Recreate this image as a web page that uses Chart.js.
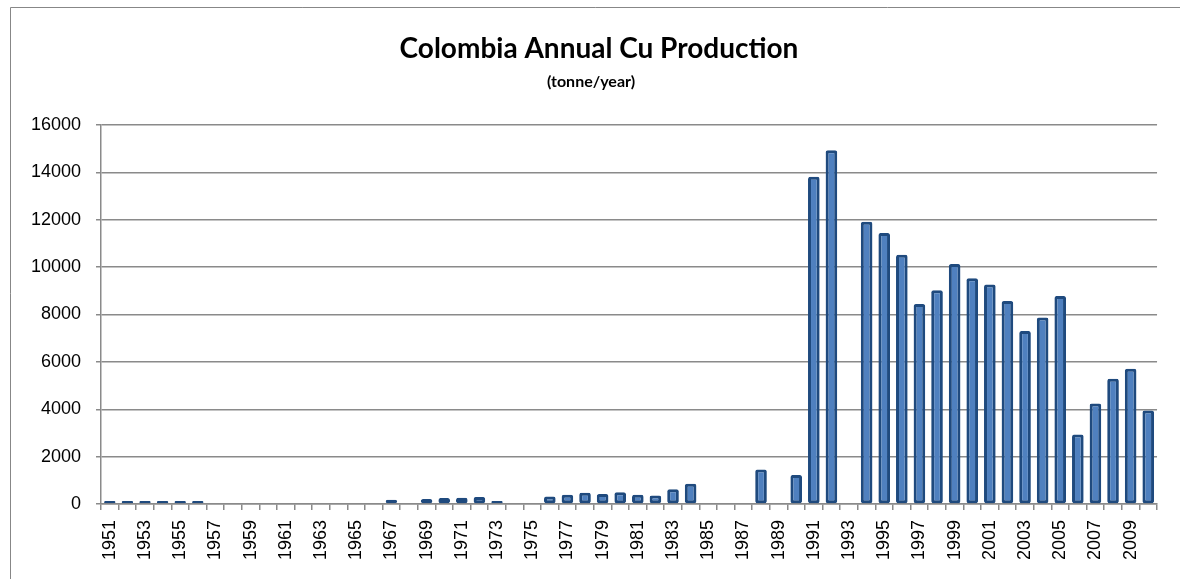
<!DOCTYPE html>
<html>
<head>
<meta charset="utf-8">
<script src="https://cdn.jsdelivr.net/npm/chart.js@4.4.1/dist/chart.umd.min.js"></script>
<style>
  html, body { margin: 0; padding: 0; background: #ffffff; }
  #wrap { width: 1180px; height: 579px; position: relative; }
</style>
</head>
<body>
<div id="wrap"><canvas id="c" width="1180" height="579"></canvas></div>
<script>
const titleText = 'Colombia Annual Cu Production';
const subtitleText = '(tonne/year)';

const years = [
  '1951','1952','1953','1954','1955','1956','1957','1958','1959','1960',
  '1961','1962','1963','1964','1965','1966','1967','1968','1969','1970',
  '1971','1972','1973','1974','1975','1976','1977','1978','1979','1980',
  '1981','1982','1983','1984','1985','1986','1987','1988','1989','1990',
  '1991','1992','1993','1994','1995','1996','1997','1998','1999','2000',
  '2001','2002','2003','2004','2005','2006','2007','2008','2009','2010'
];

const production = [
  60, 60, 110, 60, 50, 110, null, null, null, null,
  null, null, null, null, null, null, 180, null, 210, 250,
  260, 300, 110, null, null, 320, 390, 470, 420, 500,
  390, 360, 620, 850, null, null, null, 1460, null, 1220,
  13820, 14930, null, 11920, 11440, 10520, 8440, 9020, 10130, 9530,
  9270, 8570, 7300, 7870, 8780, 2930, 4240, 5290, 5710, 3950
];

const yTicks = [0, 2000, 4000, 6000, 8000, 10000, 12000, 14000, 16000];

const frameAndTitle = {
  id: 'frameAndTitle',
  beforeDraw(chart) {
    const ctx = chart.ctx;
    ctx.save();
    ctx.fillStyle = '#ffffff';
    ctx.fillRect(0, 0, chart.width, chart.height);
    ctx.strokeStyle = '#878787';
    ctx.lineWidth = 1;
    ctx.beginPath();
    ctx.moveTo(10.5, 579);
    ctx.lineTo(10.5, 7.5);
    ctx.lineTo(1180, 7.5);
    ctx.stroke();
    ctx.restore();
  },
  afterDraw(chart) {
    const ctx = chart.ctx;
    ctx.save();
    ctx.fillStyle = '#000000';
    ctx.textAlign = 'center';
    ctx.textBaseline = 'alphabetic';
    ctx.font = 'bold 28px Lato';
    ctx.fillText(titleText, 599, 58);
    ctx.font = 'bold 16px Lato';
    ctx.fillText(subtitleText, 591, 87);
    ctx.restore();
  }
};

new Chart(document.getElementById('c'), {
  type: 'bar',
  data: {
    labels: years,
    datasets: [{
      data: production,
      backgroundColor: '#4f80bf',
      borderColor: '#1f4a7e',
      borderWidth: 3,
      borderRadius: 2,
      borderSkipped: false,
      minBarLength: 3,
      barPercentage: 0.66,
      categoryPercentage: 1.0
    }]
  },
  options: {
    responsive: false,
    animation: false,
    events: [],
    layout: { padding: { top: 125, right: 19, bottom: 0, left: 0 } },
    plugins: {
      legend: { display: false },
      title: { display: false },
      tooltip: { enabled: false }
    },
    scales: {
      x: {
        offset: true,
        grid: {
          display: true,
          offset: true,
          drawOnChartArea: false,
          drawTicks: true,
          tickLength: 6,
          color: '#8a8a8a',
          lineWidth: 1.5
        },
        border: { display: true, color: '#8a8a8a', width: 1.5 },
        ticks: {
          autoSkip: false,
          maxRotation: 90,
          minRotation: 90,
          padding: 10,
          color: '#000000',
          font: { family: 'Liberation Sans', size: 18 },
          callback: function (value, index) {
            return index % 2 === 0 ? years[index] : '';
          }
        },
        afterFit(scale) { scale.height = 75; }
      },
      y: {
        min: 0,
        max: 16000,
        afterBuildTicks(scale) {
          scale.ticks = yTicks.map(v => ({ value: v }));
        },
        grid: {
          color: '#8a8a8a',
          lineWidth: 1.5,
          drawTicks: true,
          tickLength: 5
        },
        border: { display: true, color: '#8a8a8a', width: 1.5 },
        ticks: {
          padding: 15,
          color: '#000000',
          font: { family: 'Liberation Sans', size: 18 },
          callback: function (value) { return String(value); }
        },
        afterFit(scale) { scale.width = 101; }
      }
    }
  },
  plugins: [frameAndTitle]
});
</script>
</body>
</html>
